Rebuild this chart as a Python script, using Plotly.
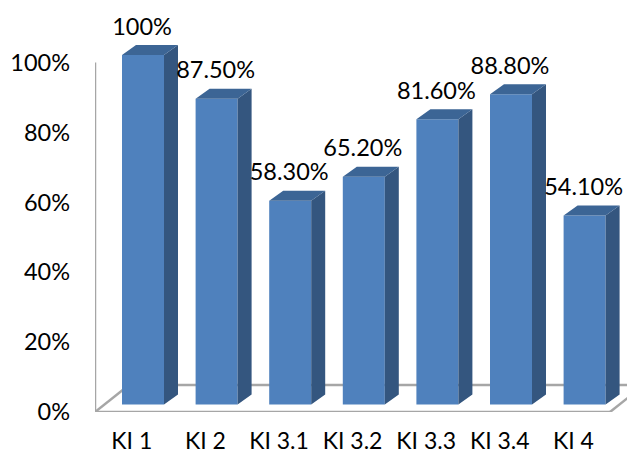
import plotly.graph_objects as go

categories = ["KI 1", "KI 2", "KI 3.1", "KI 3.2", "KI 3.3", "KI 3.4", "KI 4"]
values = [100, 87.5, 58.3, 65.2, 81.6, 88.8, 54.1]
value_labels = ["100%", "87.50%", "58.30%", "65.20%", "81.60%", "88.80%", "54.10%"]
y_ticks = [0, 20, 40, 60, 80, 100]

W, H = 635, 455
PAGE_INSET = 8              # the page's own body margin
LEFT, BOTTOM = 95 - PAGE_INSET, 43
PX_X = 73.6                 # pixels per category
PX_Y = 3.495                # pixels per percent
FONT = dict(family="Lato", size=23.5, color="#000000")

# oblique projection offsets, in axis units
front_dx, front_dy = 11.2 / PX_X, 7.5 / PX_Y
depth_dx, depth_dy = 14 / PX_X, 10 / PX_Y
floor_dx, floor_dy = 34 / PX_X, 27 / PX_Y
bar_w = 42 / PX_X
label_dx, label_dy = -1.0 / PX_X, 26.3 / PX_Y

fig_w, fig_h = W - PAGE_INSET, H - PAGE_INSET
x_min = -0.5
x_max = x_min + (fig_w - LEFT) / PX_X
y_max = (fig_h - BOTTOM) / PX_Y
x_idx = list(range(len(categories)))

side_x, side_y, top_x, top_y = [], [], [], []
for i, v in zip(x_idx, values):
    xl = i + front_dx - bar_w / 2
    xr = i + front_dx + bar_w / 2
    y0 = front_dy
    y1 = front_dy + v
    side_x += [xr, xr + depth_dx, xr + depth_dx, xr, xr, None]
    side_y += [y0, y0 + depth_dy, y1 + depth_dy, y1, y0, None]
    top_x += [xl, xl + depth_dx, xr + depth_dx, xr, xl, None]
    top_y += [y1, y1 + depth_dy, y1 + depth_dy, y1, y1, None]

fig = go.Figure()
fig.add_trace(go.Bar(
    x=[i + front_dx for i in x_idx], y=values, base=front_dy, width=bar_w,
    marker=dict(color="#4F81BD", line=dict(width=0)), hoverinfo="skip",
))
fig.add_trace(go.Scatter(x=side_x, y=side_y, mode="lines", fill="toself",
                         fillcolor="#34567F", line=dict(width=0), hoverinfo="skip"))
fig.add_trace(go.Scatter(x=top_x, y=top_y, mode="lines", fill="toself",
                         fillcolor="#3C6595", line=dict(width=0), hoverinfo="skip"))
fig.add_trace(go.Scatter(
    x=[i + front_dx + label_dx for i in x_idx],
    y=[v + front_dy + label_dy for v in values],
    mode="text", text=value_labels, textposition="middle center",
    textfont=FONT, hoverinfo="skip", cliponaxis=False,
))

wall = dict(color="#A6A6A6", width=2.5)
x_front_end = x_min + 515 / PX_X
for x0, y0, x1, y1 in [
    (x_min, 0, x_min, 100),
    (x_min, 0, x_front_end, 0),
    (x_min, 0, x_min + floor_dx, floor_dy),
    (x_min + floor_dx, floor_dy, x_max, floor_dy),
    (x_front_end, 0, x_front_end + floor_dx, floor_dy),
]:
    fig.add_shape(type="line", xref="x", yref="y", x0=x0, y0=y0, x1=x1, y1=y1,
                  line=wall, layer="below")

fig.update_layout(
    width=fig_w, height=fig_h, autosize=False,
    margin=dict(l=LEFT, r=0, t=0, b=BOTTOM, pad=0),
    paper_bgcolor="#FFFFFF", plot_bgcolor="#FFFFFF",
    showlegend=False, font=FONT,
    xaxis=dict(range=[x_min, x_max], tickmode="array", tickvals=x_idx, ticktext=categories,
               showgrid=False, zeroline=False, showline=False, ticks="", automargin=False,
               tickfont=dict(family="Lato", size=23, color="#000000"),
               ticklabelstandoff=13, fixedrange=True),
    yaxis=dict(range=[0, y_max], tickmode="array", tickvals=y_ticks,
               ticktext=[f"{t}%" for t in y_ticks],
               showgrid=False, zeroline=False, showline=False, ticks="", automargin=False,
               tickfont=FONT, ticklabelstandoff=24, fixedrange=True),
)

fig.write_html("out.html", config=dict(displayModeBar=False))
